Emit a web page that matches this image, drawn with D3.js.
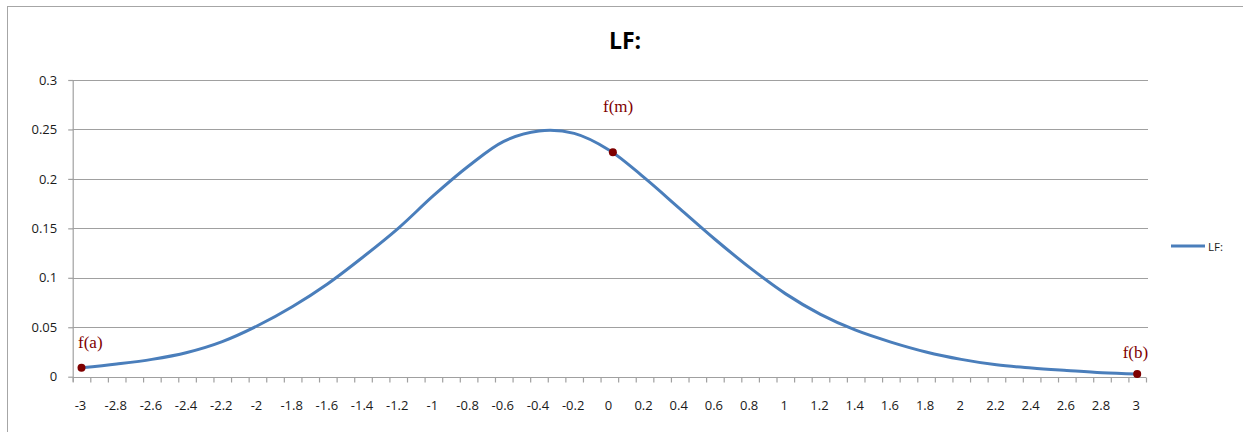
<!DOCTYPE html>
<html>
<head>
<meta charset="utf-8">
<script src="https://cdn.jsdelivr.net/npm/d3@7"></script>
<style>
  body { margin: 0; background: #ffffff; }
  svg { display: block; }
</style>
</head>
<body>
<svg id="chart" width="1243" height="432"></svg>
<script>
// x positions (one per labelled category) and LF: values
var xValues = [-3, -2.8, -2.6, -2.4, -2.2, -2, -1.8, -1.6, -1.4, -1.2, -1, -0.8, -0.6, -0.4, -0.2,
               0, 0.2, 0.4, 0.6, 0.8, 1, 1.2, 1.4, 1.6, 1.8, 2, 2.2, 2.4, 2.6, 2.8, 3];
var lfValues = [0.009, 0.0128, 0.0175, 0.0245, 0.0355, 0.0515, 0.071, 0.094, 0.121, 0.150, 0.183, 0.213, 0.238, 0.2485, 0.246,
                0.229, 0.201, 0.170, 0.139, 0.110, 0.084, 0.063, 0.047, 0.035, 0.025, 0.0175, 0.012, 0.0088, 0.0063, 0.0040, 0.0027];
var yTicks = [0, 0.05, 0.1, 0.15, 0.2, 0.25, 0.3];

// the three marked points and their labels
var markNames = ["f(a)", "f(m)", "f(b)"];
var markX = [-3, 0.02, 3];
var markY = [0.009, 0.227, 0.0027];
var markLabelX = [-2.95, 0.05, 2.99];
var markLabelY = [0.029, 0.268, 0.019];

var seriesName = "LF:";

var svg = d3.select("#chart");
var plotLeft = 72.7, plotRight = 1146, plotTop = 80, plotBottom = 376.7;

// 61 categories of 0.1, ticks sit between categories
var x = d3.scaleLinear().domain([-3.05, 3.05]).range([plotLeft, plotRight]);
var y = d3.scaleLinear().domain([0, 0.3]).range([plotBottom, plotTop]);

// outer chart frame
svg.append("rect")
    .attr("x", 7.5).attr("y", 6.5)
    .attr("width", 1260).attr("height", 440)
    .style("fill", "none")
    .style("stroke", "#a6a6a6")
    .style("stroke-width", 1);

// title
svg.append("text")
    .attr("x", 625).attr("y", 49)
    .attr("text-anchor", "middle")
    .attr("font-family", "'Open Sans', sans-serif")
    .attr("font-weight", "bold")
    .attr("font-size", "23px")
    .attr("fill", "#000")
    .text(seriesName);

// gridlines
svg.append("g").selectAll("line")
    .data(yTicks.filter(function (d) { return d > 0; }))
    .enter().append("line")
    .attr("x1", plotLeft).attr("x2", plotRight + 2)
    .attr("y1", function (d) { return Math.round(y(d)) + 0.5; })
    .attr("y2", function (d) { return Math.round(y(d)) + 0.5; })
    .style("stroke", "#a0a0a0")
    .style("stroke-width", 1.2);

// y axis
var yAxis = svg.append("g")
    .attr("transform", "translate(" + (plotLeft + 0.5) + ",0)")
    .call(d3.axisLeft(y).tickValues(yTicks).tickSize(5).tickPadding(11)
        .tickFormat(function (d) { return String(+d.toFixed(2)); }));
yAxis.select(".domain").attr("d", "M0," + plotTop + "V" + (plotBottom + 5)).style("stroke", "#a0a0a0").style("stroke-width", 1.2);
yAxis.selectAll(".tick line").style("stroke", "#a0a0a0").style("stroke-width", 1.2);
yAxis.selectAll(".tick text")
    .attr("font-family", "'Open Sans', sans-serif")
    .attr("font-size", "13px")
    .attr("fill", "#1a1a1a");

// x axis: ticks at category boundaries, labels at every second category
var boundaries = d3.range(62).map(function (k) { return -3.05 + 0.1 * k; });
var xAxis = svg.append("g")
    .attr("transform", "translate(0," + (Math.round(plotBottom) + 0.5) + ")")
    .call(d3.axisBottom(x).tickValues(boundaries).tickSize(5).tickFormat(""));
xAxis.select(".domain").attr("d", "M" + plotLeft + ",0H" + plotRight).style("stroke", "#a0a0a0").style("stroke-width", 1.2);
xAxis.selectAll(".tick line").style("stroke", "#a0a0a0").style("stroke-width", 1.2);

svg.append("g").selectAll("text")
    .data(xValues)
    .enter().append("text")
    .attr("x", function (d) { return x(d) - 1; })
    .attr("y", 410)
    .attr("text-anchor", "middle")
    .attr("font-family", "'Open Sans', sans-serif")
    .attr("font-size", "13px")
    .attr("fill", "#1a1a1a")
    .text(function (d) { return String(d); });

// the LF: line
var line = d3.line()
    .x(function (d, i) { return x(xValues[i]); })
    .y(function (d) { return y(d); })
    .curve(d3.curveCatmullRom.alpha(0.5));

svg.append("path")
    .datum(lfValues)
    .attr("d", line)
    .style("fill", "none")
    .style("stroke", "#4a7ebb")
    .style("stroke-width", 3)
    .style("stroke-linejoin", "round");

// marked points
var marks = svg.append("g");
marks.selectAll("circle")
    .data(markNames)
    .enter().append("circle")
    .attr("cx", function (d, i) { return x(markX[i]); })
    .attr("cy", function (d, i) { return y(markY[i]); })
    .attr("r", 4)
    .style("fill", "#7f0000");

marks.selectAll("text")
    .data(markNames)
    .enter().append("text")
    .attr("x", function (d, i) { return x(markLabelX[i]); })
    .attr("y", function (d, i) { return y(markLabelY[i]); })
    .attr("text-anchor", "middle")
    .attr("font-family", "'Liberation Serif', 'DejaVu Serif', serif")
    .attr("font-size", "17px")
    .attr("fill", "#7f0000")
    .text(function (d) { return d; });

// legend
svg.append("line")
    .attr("x1", 1171).attr("x2", 1205)
    .attr("y1", 246).attr("y2", 246)
    .style("stroke", "#4a7ebb")
    .style("stroke-width", 3);
svg.append("text")
    .attr("x", 1208).attr("y", 250.5)
    .attr("font-family", "'Open Sans', sans-serif")
    .attr("font-size", "11.5px")
    .attr("fill", "#1a1a1a")
    .text(seriesName);
</script>
</body>
</html>
